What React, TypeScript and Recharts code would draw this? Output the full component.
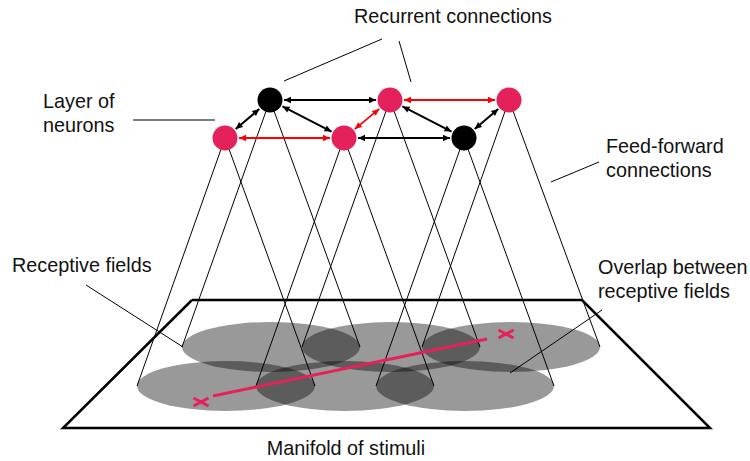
import { Scatter, ScatterChart, XAxis, YAxis } from 'recharts';

/**
 * Receptive-field diagram: a layer of recurrently connected neurons, each
 * feeding forward from an elliptical patch on a manifold of stimuli.
 * Everything is placed in a 750x461 data space with hidden axes, so the
 * library scales map data units straight onto the page.
 */

const W = 750;
const H = 461;

// neurons, top row then bottom row (y grows downward, the y axis is reversed)
const NEURON_X = [270, 390, 509, 225, 344, 464];
const NEURON_Y = [100, 100, 100, 138, 138, 138];
// red = neuron responding to the stimulus
const NEURON_ACTIVE = [false, true, true, true, true, false];

// receptive field centres, one per neuron
const FIELD_X = [271, 391, 511, 226, 345, 465];
const FIELD_Y = [347, 347, 347, 386, 386, 386];
const FIELD_RX = 89;
const FIELD_RY = 25;

// recurrent connections, as neuron index pairs
const RECURRENT_BLACK = [[0, 1], [0, 4], [4, 5], [1, 5], [3, 0], [5, 2]];
const RECURRENT_RED = [[1, 2], [3, 4], [4, 1]];

// manifold of stimuli (closed outline)
const PLANE_X = [192, 582, 710, 63, 192];
const PLANE_Y = [300, 300, 428, 428, 300];

// stimulus trajectory and its two end marks
const STIM_X = [213, 487];
const STIM_Y = [396, 339];
const STIM_MARK_X = [201, 506];
const STIM_MARK_Y = [402, 334];

// leader lines from the labels: x1, y1, x2, y2
const LEADERS = [
  [382, 39, 284, 81],
  [399, 41, 411, 82],
  [599, 162, 551, 182],
  [86, 285, 183, 347],
  [602, 310, 510, 373],
];
const LEADER_LAYER = [133, 120, 215, 120];

const LABEL_X = [354, 43, 606, 12, 598, 346];
const LABEL_Y = [23, 108, 153, 272, 274, 455];
const LABEL_TEXT = [
  ['Recurrent connections'],
  ['Layer of', 'neurons'],
  ['Feed-forward', 'connections'],
  ['Receptive fields'],
  ['Overlap between', 'receptive fields'],
  ['Manifold of stimuli'],
];
const LABEL_CENTERED = [false, false, false, false, false, true];

const NEURON_R = 12.5;
const ARROW_GAP = 14;
const FONT = '"Liberation Sans", Arial, sans-serif';

type Pt = { x: number; y: number; angle?: number; i?: number };

const seg = (x1: number, y1: number, x2: number, y2: number): Pt[] => [
  { x: x1, y: y1 },
  { x: x2, y: y2 },
];

function arrowPoints(a: number, b: number): Pt[] {
  const dx = NEURON_X[b] - NEURON_X[a];
  const dy = NEURON_Y[b] - NEURON_Y[a];
  const len = Math.hypot(dx, dy);
  const ux = dx / len;
  const uy = dy / len;
  return [
    { x: NEURON_X[a] + ux * ARROW_GAP, y: NEURON_Y[a] + uy * ARROW_GAP, angle: Math.atan2(-uy, -ux) },
    { x: NEURON_X[b] - ux * ARROW_GAP, y: NEURON_Y[b] - uy * ARROW_GAP, angle: Math.atan2(uy, ux) },
  ];
}

const Hidden = () => <g />;

function ArrowHead(props: any, color: string) {
  const { cx, cy, payload } = props;
  const t = payload.angle ?? 0;
  const L = 7;
  const w = 3.2;
  const c = Math.cos(t);
  const s = Math.sin(t);
  const p = (ax: number, ay: number) => `${cx + ax * c - ay * s},${cy + ax * s + ay * c}`;
  return <polygon points={`${p(0, 0)} ${p(-L, -w)} ${p(-L, w)}`} fill={color} />;
}

function FieldShape(props: any) {
  return (
    <ellipse cx={props.cx} cy={props.cy} rx={FIELD_RX * (W / 750)} ry={FIELD_RY * (H / 461)} fill="#000" fillOpacity={0.4} />
  );
}

function NeuronShape(props: any) {
  const active = NEURON_ACTIVE[props.payload.i];
  return <circle cx={props.cx} cy={props.cy} r={NEURON_R} fill={active ? '#e4215a' : '#000'} />;
}

function MarkShape(props: any) {
  const { cx, cy } = props;
  return (
    <g stroke="#e4215a" strokeWidth={3}>
      <line x1={cx - 7.5} y1={cy - 4} x2={cx + 7.5} y2={cy + 4} />
      <line x1={cx - 7.5} y1={cy + 4} x2={cx + 7.5} y2={cy - 4} />
    </g>
  );
}

function LabelShape(props: any) {
  const { cx, cy, payload } = props;
  const lines = LABEL_TEXT[payload.i];
  return (
    <text
      x={cx}
      y={cy}
      fontFamily={FONT}
      fontSize={19.8}
      fill="#111"
      textAnchor={LABEL_CENTERED[payload.i] ? 'middle' : 'start'}
    >
      {lines.map((l, k) => (
        <tspan key={k} x={cx} dy={k === 0 ? 0 : 23.8}>
          {l}
        </tspan>
      ))}
    </text>
  );
}

export default function App() {
  const plane = PLANE_X.map((x, i) => ({ x, y: PLANE_Y[i] }));
  const fields = FIELD_X.map((x, i) => ({ x, y: FIELD_Y[i], i }));
  const neurons = NEURON_X.map((x, i) => ({ x, y: NEURON_Y[i], i }));
  const labels = LABEL_X.map((x, i) => ({ x, y: LABEL_Y[i], i }));
  const marks = STIM_MARK_X.map((x, i) => ({ x, y: STIM_MARK_Y[i] }));

  return (
    <div style={{ width: W, height: H, background: '#fff' }}>
      <style>{'body{margin:0}'}</style>
      <ScatterChart width={W} height={H} margin={{ top: 0, right: 0, bottom: 0, left: 0 }}>
        <XAxis type="number" dataKey="x" domain={[0, W]} hide allowDataOverflow />
        <YAxis type="number" dataKey="y" domain={[0, H]} reversed hide allowDataOverflow />

        <Scatter data={plane} line={{ stroke: '#000', strokeWidth: 2.5, fill: 'none' }} shape={Hidden} isAnimationActive={false} />
        <Scatter data={fields} shape={FieldShape} isAnimationActive={false} />

        {FIELD_X.map((fx, i) => (
          <Scatter
            key={`ff${i}`}
            data={[
              { x: fx - FIELD_RX, y: FIELD_Y[i] },
              { x: NEURON_X[i], y: NEURON_Y[i] },
              { x: fx + FIELD_RX, y: FIELD_Y[i] },
            ]}
            line={{ stroke: '#000', strokeWidth: 1 }}
            shape={Hidden}
            isAnimationActive={false}
          />
        ))}

        <Scatter
          data={seg(STIM_X[0], STIM_Y[0], STIM_X[1], STIM_Y[1])}
          line={{ stroke: '#e4215a', strokeWidth: 3 }}
          shape={Hidden}
          isAnimationActive={false}
        />
        <Scatter data={marks} shape={MarkShape} isAnimationActive={false} />

        {LEADERS.map((l, i) => (
          <Scatter key={`ld${i}`} data={seg(l[0], l[1], l[2], l[3])} line={{ stroke: '#000', strokeWidth: 1 }} shape={Hidden} isAnimationActive={false} />
        ))}
        <Scatter
          data={seg(LEADER_LAYER[0], LEADER_LAYER[1], LEADER_LAYER[2], LEADER_LAYER[3])}
          line={{ stroke: '#555', strokeWidth: 1.5 }}
          shape={Hidden}
          isAnimationActive={false}
        />

        {RECURRENT_BLACK.map(([a, b], i) => (
          <Scatter
            key={`rb${i}`}
            data={arrowPoints(a, b)}
            line={{ stroke: '#000', strokeWidth: 2 }}
            shape={(p: any) => ArrowHead(p, '#000')}
            isAnimationActive={false}
          />
        ))}
        {RECURRENT_RED.map(([a, b], i) => (
          <Scatter
            key={`rr${i}`}
            data={arrowPoints(a, b)}
            line={{ stroke: '#ff0000', strokeWidth: 1.8 }}
            shape={(p: any) => ArrowHead(p, '#ff0000')}
            isAnimationActive={false}
          />
        ))}

        <Scatter data={neurons} shape={NeuronShape} isAnimationActive={false} />
        <Scatter data={labels} shape={LabelShape} isAnimationActive={false} />
      </ScatterChart>
    </div>
  );
}
